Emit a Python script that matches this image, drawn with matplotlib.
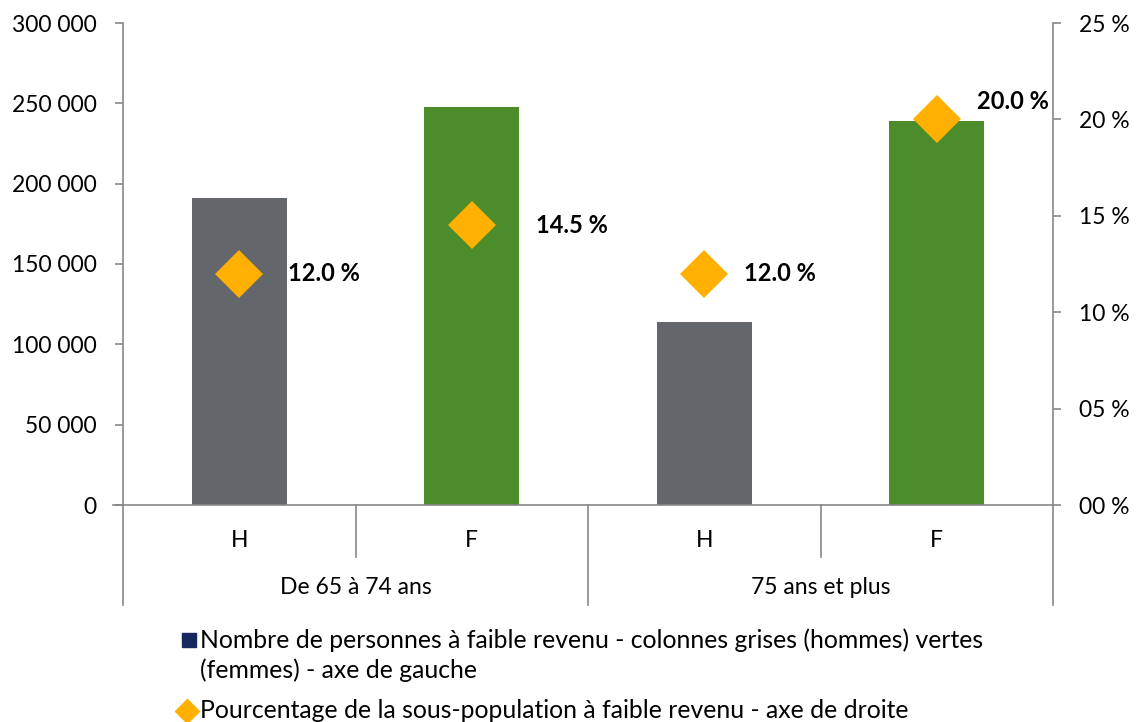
import matplotlib
matplotlib.use("Agg")
import matplotlib.pyplot as plt
from matplotlib.lines import Line2D
from matplotlib.ticker import FuncFormatter, MultipleLocator
import matplotlib.transforms as mtransforms

plt.rcParams['font.family'] = ['Lato', 'DejaVu Sans']

# Data
groups = ["De 65 à 74 ans", "75 ans et plus"]
sexes = ["H", "F", "H", "F"]
counts = [191000, 248000, 114000, 239000]
pcts = [12.0, 14.5, 12.0, 20.0]
bar_colors = ["#63666A", "#4C8C2B", "#63666A", "#4C8C2B"]
label_offsets = [(49, 0), (64, 0), (40, 0), (40, 18)]  # pixel offsets for labels

W, H = 1139, 722
fig = plt.figure(figsize=(W / 100, H / 100), dpi=100)
ax = fig.add_axes([123 / W, 1 - 505 / H, (1053 - 123) / W, (505 - 23) / H])
ax2 = ax.twinx()

TICK_FS = 16.5
x = list(range(len(counts)))
ax.bar(x, counts, width=0.41, color=bar_colors, zorder=2)
ax.set_xlim(-0.5, len(counts) - 0.5)
ax.set_ylim(0, 300000)
ax.yaxis.set_major_locator(MultipleLocator(50000))
ax.yaxis.set_major_formatter(FuncFormatter(lambda v, p: f"{int(v):,}".replace(",", " ")))

ax2.set_ylim(0, 25)
ax2.yaxis.set_major_locator(MultipleLocator(5))
ax2.yaxis.set_major_formatter(FuncFormatter(lambda v, p: f"{int(round(v)):02d} %"))
ax2.plot(x, pcts, linestyle="none", marker="D", markersize=24, color="#FFB000",
         markeredgewidth=0, zorder=3)
for xi, p, (dx, dy) in zip(x, pcts, label_offsets):
    ax2.annotate(f"{p:.1f} %", (xi, p), xytext=(dx * 0.72, dy * 0.72), textcoords="offset points",
                 ha="left", va="center", fontsize=17, fontweight="bold", color="black")

spine_col = "#888888"
for a in (ax, ax2):
    for s in a.spines.values():
        s.set_color(spine_col)
        s.set_linewidth(1.2)
    a.spines["top"].set_visible(False)
    a.tick_params(axis="y", colors=spine_col, labelcolor="black", labelsize=TICK_FS, length=6, width=1.2, direction="out")
ax.tick_params(axis="y", pad=13)
ax2.tick_params(axis="y", pad=13)
ax.spines["right"].set_visible(False)
ax2.spines["left"].set_visible(False)
ax2.spines["bottom"].set_visible(False)

ax.set_xticks(x)
ax.set_xticklabels(sexes)
ax.tick_params(axis="x", length=0, pad=18, labelsize=TICK_FS)

# category separators below axis
trans = mtransforms.blended_transform_factory(ax.transData, ax.transAxes)
inner_len = (557 - 505) / (505 - 23)
outer_len = (605 - 505) / (505 - 23)
bounds = [i - 0.5 for i in range(len(counts) + 1)]
for i, b in enumerate(bounds):
    ln = outer_len if i % 2 == 0 else inner_len
    ax.add_line(Line2D([b, b], [0, -ln], transform=trans, color=spine_col, lw=1.2, clip_on=False))
# group labels
for gi, g in enumerate(groups):
    ax.text(gi * 2 + 0.5, -(588 - 505) / (505 - 23), g, transform=trans, ha="center", va="center", fontsize=TICK_FS)
# extend x-axis line slightly left
ax.add_line(Line2D([-0.5 - 10 / 232.5, -0.5], [0, 0], transform=trans, color=spine_col, lw=1.2, clip_on=False))

# Legend (manual)
def fx(px):
    return px / W

def fy(py):
    return 1 - py / H

LEG_FS = 17.8
fig.add_artist(Line2D([fx(189)], [fy(640)], marker="s", markersize=10, color="#14285F", linestyle="none"))
fig.text(fx(200), fy(640), "Nombre de personnes à faible revenu - colonnes grises (hommes) vertes",
         ha="left", va="center", fontsize=LEG_FS)
fig.text(fx(200), fy(670), "(femmes) - axe de gauche", ha="left", va="center", fontsize=LEG_FS)
fig.add_artist(Line2D([fx(187)], [fy(711)], marker="D", markersize=12, color="#FFB000", linestyle="none"))
fig.text(fx(200), fy(710), "Pourcentage de la sous-population à faible revenu - axe de droite",
         ha="left", va="center", fontsize=LEG_FS)

fig.savefig("out.png", dpi=100)
